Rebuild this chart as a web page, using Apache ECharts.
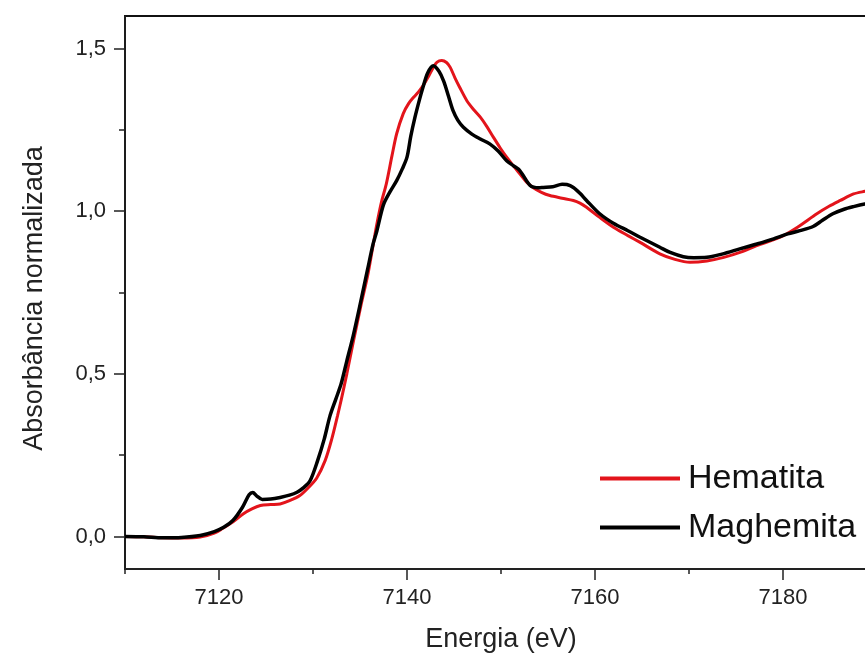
<!DOCTYPE html>
<html><head><meta charset="utf-8">
<script src="https://cdn.jsdelivr.net/npm/echarts@6/dist/echarts.min.js"></script>
<style>html,body{margin:0;padding:0;background:#fff}#c{width:865px;height:653px}</style>
</head><body><div id="c"></div>
<script>
const energyHematita = [7110,7112,7114,7116,7118,7119.5,7120.4,7121.5,7122.6,7123.5,7124.4,7125.5,7126.5,7127.5,7128.6,7129.5,7130.4,7131.3,7132.0,7132.6,7133.0,7133.6,7134.3,7135.1,7135.8,7136.3,7136.8,7137.3,7137.8,7138.4,7138.9,7139.6,7140.2,7140.7,7141.2,7141.7,7142.3,7142.8,7143.2,7143.7,7144.2,7144.6,7145.1,7145.6,7146.4,7147.1,7147.8,7148.5,7149.2,7149.9,7150.6,7151.3,7152.0,7152.7,7153.4,7154.3,7155.2,7156.5,7157.7,7158.4,7159.1,7160.5,7162.0,7163.5,7164.8,7166.9,7168.5,7170.1,7171.9,7173.7,7175.5,7177.2,7179.7,7181.5,7183.6,7184.9,7186.1,7187.5,7188.7,7190];
const hematita = [0.000,-0.001,-0.004,-0.005,-0.002,0.010,0.025,0.045,0.070,0.085,0.095,0.098,0.100,0.110,0.126,0.150,0.180,0.234,0.300,0.370,0.420,0.500,0.600,0.710,0.800,0.880,0.961,1.030,1.084,1.170,1.238,1.300,1.332,1.350,1.366,1.385,1.415,1.442,1.458,1.463,1.457,1.442,1.410,1.381,1.338,1.312,1.289,1.260,1.227,1.195,1.166,1.140,1.115,1.090,1.073,1.058,1.048,1.040,1.033,1.025,1.012,0.981,0.950,0.925,0.904,0.869,0.852,0.843,0.847,0.858,0.874,0.894,0.920,0.950,0.992,1.015,1.033,1.053,1.061,1.068];
const energyMaghemita = [7110,7112,7114,7116,7118,7119.5,7120.5,7121.5,7122.5,7123.2,7123.6,7124.0,7124.6,7125.5,7126.5,7127.5,7128.3,7129.0,7129.7,7130.5,7131.2,7131.8,7132.4,7133.0,7133.6,7134.3,7135.1,7135.8,7136.4,7136.8,7137.5,7138.2,7138.9,7139.5,7140.0,7140.4,7140.85,7141.3,7141.7,7142.2,7142.8,7143.4,7143.9,7144.4,7144.9,7145.4,7146.0,7146.9,7147.8,7148.8,7149.7,7150.6,7151.3,7152.0,7153.1,7154.0,7154.5,7155.5,7156.5,7157.0,7157.7,7158.4,7159.1,7160.5,7162.0,7163.5,7164.8,7166.9,7168.0,7169.4,7170.5,7171.9,7173.5,7175.4,7177.2,7179.0,7180.5,7181.8,7183.2,7184.2,7185.3,7186.5,7187.5,7188.7,7190];
const maghemita = [0.000,-0.001,-0.004,-0.003,0.003,0.015,0.028,0.050,0.090,0.128,0.135,0.125,0.114,0.115,0.120,0.127,0.136,0.150,0.172,0.234,0.300,0.370,0.420,0.470,0.540,0.620,0.725,0.820,0.900,0.940,1.020,1.060,1.094,1.130,1.166,1.230,1.289,1.340,1.381,1.425,1.447,1.430,1.400,1.355,1.309,1.280,1.258,1.237,1.222,1.207,1.185,1.155,1.140,1.125,1.079,1.072,1.073,1.075,1.083,1.082,1.073,1.055,1.033,0.992,0.962,0.940,0.920,0.889,0.873,0.860,0.857,0.858,0.868,0.884,0.899,0.915,0.930,0.940,0.953,0.972,0.992,1.006,1.014,1.022,1.028];
const seriesNames = ['Hematita', 'Maghemita'];
const xMajorTicks = [7120, 7140, 7160, 7180];
const xMinorTicks = [7110, 7130, 7150, 7170, 7190];
const yMajorTicks = [0, 0.5, 1.0, 1.5];
const yMinorTicks = [0.25, 0.75, 1.25];

const FONT = 'Liberation Sans, Arial, Helvetica, sans-serif';
const zip = (xs, ys) => xs.map((x, i) => [x, ys[i]]);
const fmt = v => v.toFixed(1).replace('.', ',');

const chart = echarts.init(document.getElementById('c'), null, {renderer: 'canvas'});
chart.setOption({
  animation: false,
  backgroundColor: '#fff',
  grid: {left: 125, top: 16, width: 752, height: 553, outerBoundsMode: 'none', containLabel: false,
         show: true, borderColor: '#111', borderWidth: 2, backgroundColor: 'transparent'},
  legend: {
    orient: 'vertical', left: 600, top: 454, padding: 0, itemWidth: 80, itemHeight: 4, itemGap: 0,
    data: [{name: seriesNames[0], icon: 'rect'}, {name: seriesNames[1], icon: 'rect'}],
    textStyle: {fontFamily: FONT, fontSize: 34, color: '#111', lineHeight: 41, padding: [8, 0, 0, 3]}
  },
  xAxis: [
    {type: 'value', min: 7110, max: 7190, position: 'bottom',
     axisLine: {show: true, onZero: false, lineStyle: {color: '#222', width: 2}},
     axisTick: {show: true, customValues: xMajorTicks, length: 11, lineStyle: {color: '#222', width: 1.5}},
     axisLabel: {show: true, customValues: xMajorTicks, formatter: v => String(v), fontFamily: FONT, fontSize: 22, color: '#222', margin: 18},
     splitLine: {show: false},
     name: 'Energia (eV)', nameLocation: 'middle', nameGap: 57,
     nameTextStyle: {fontFamily: FONT, fontSize: 27, color: '#222'}},
    {type: 'value', min: 7110, max: 7190, position: 'bottom',
     axisLine: {show: false, onZero: false},
     axisTick: {show: true, customValues: xMinorTicks, length: 5, lineStyle: {color: '#222', width: 1.5}},
     axisLabel: {show: false}, splitLine: {show: false}}
  ],
  yAxis: [
    {type: 'value', min: -0.1, max: 1.6, position: 'left',
     axisLine: {show: true, onZero: false, lineStyle: {color: '#222', width: 1.5}},
     axisTick: {show: true, customValues: yMajorTicks, length: 11, lineStyle: {color: '#222', width: 1.5}},
     axisLabel: {show: true, customValues: yMajorTicks, formatter: fmt, fontFamily: FONT, fontSize: 22, color: '#222', margin: 19},
     splitLine: {show: false},
     name: 'Absorbância normalizada', nameLocation: 'middle', nameGap: 77,
     nameTextStyle: {fontFamily: FONT, fontSize: 27, color: '#222', padding: [0, 12, 0, 0]}},
    {type: 'value', min: -0.1, max: 1.6, position: 'left',
     axisLine: {show: false, onZero: false},
     axisTick: {show: true, customValues: yMinorTicks, length: 6, lineStyle: {color: '#222', width: 1.5}},
     axisLabel: {show: false}, splitLine: {show: false}}
  ],
  series: [
    {name: seriesNames[0], type: 'line', xAxisIndex: 0, yAxisIndex: 0, data: zip(energyHematita, hematita),
     showSymbol: false, symbol: 'none', smooth: 0.3, color: '#e3141b', lineStyle: {color: '#e3141b', width: 3}, z: 2},
    {name: seriesNames[1], type: 'line', xAxisIndex: 0, yAxisIndex: 0, data: zip(energyMaghemita, maghemita),
     showSymbol: false, symbol: 'none', smooth: 0.3, color: '#000', lineStyle: {color: '#000', width: 3.5}, z: 3}
  ]
});
</script></body></html>
